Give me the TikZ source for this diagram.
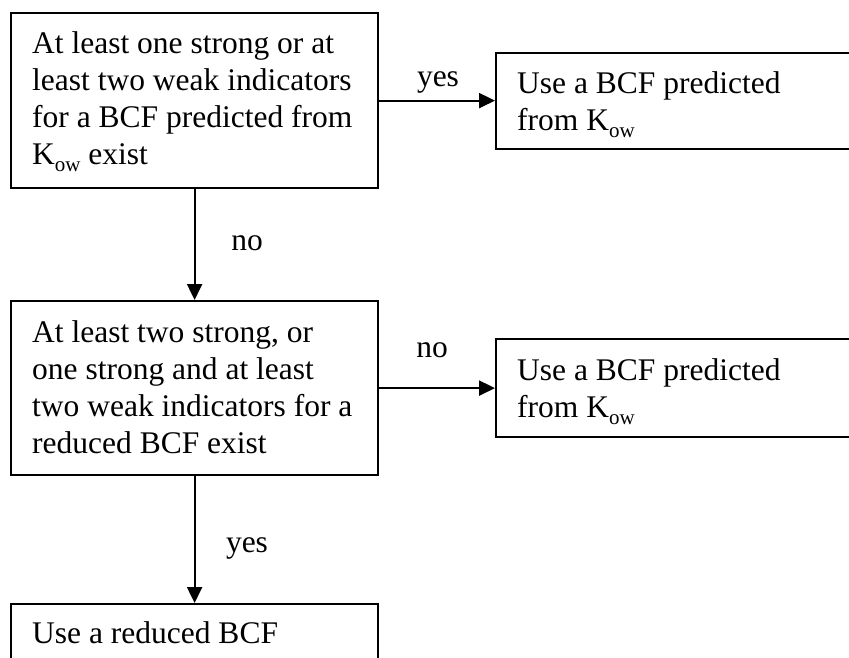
\documentclass[tikz,border=0pt]{standalone}
\usepackage{fontspec}
\setmainfont{Liberation Serif}
\usetikzlibrary{arrows.meta}
\tikzset{
  box/.style={draw, line width=2.2pt, inner sep=0pt, anchor=north west},
  txt/.style={anchor=base west, inner sep=0pt},
  lbl/.style={anchor=base, inner sep=0pt},
  arr/.style={line width=2.2pt, -{Triangle[length=16pt,width=15pt]}}
}
\newcommand{\ow}{\raisebox{-7pt}{\fontsize{21}{21}\selectfont ow}}
\begin{document}
\begin{tikzpicture}[x=1pt,y=-1pt,font=\fontsize{31.5}{37}\selectfont]
\useasboundingbox (0,0) rectangle (849,657);
\clip (0,0) rectangle (849,657);
\fill[white] (0,0) rectangle (849,657);
% boxes
\node[box, minimum width=367pt, minimum height=175pt] (b1) at (10,12) {};
\node[box, minimum width=370pt, minimum height=96pt] (b2) at (495,52) {};
\node[box, minimum width=367pt, minimum height=174pt] (b3) at (10,300) {};
\node[box, minimum width=370pt, minimum height=98pt] (b4) at (495,338) {};
\node[box, minimum width=367pt, minimum height=80pt] (b5) at (10,603) {};
% texts
\node[txt] (t1) at (32,53) {\parbox[t]{345pt}{\raggedright At least one strong or at\\ least two weak indicators\\ for a BCF predicted from\\ K\ow{} exist}};
\node[txt] (t2) at (517,93) {\parbox[t]{320pt}{\raggedright Use a BCF predicted\\ from K\ow}};
\node[txt] (t3) at (32,342) {\parbox[t]{345pt}{\raggedright At least two strong, or\\ one strong and at least\\ two weak indicators for a\\ reduced BCF exist}};
\node[txt] (t4) at (517,380) {\parbox[t]{320pt}{\raggedright Use a BCF predicted\\ from K\ow}};
\node[txt] (t5) at (32,643) {Use a reduced BCF};
% connectors
\draw[arr] (b1.east) -- (b1.east -| b2.west);
\draw[arr] (b1.south) -- (b3.north);
\draw[arr] (b3.east) -- (b3.east -| b4.west);
\draw[arr] (b3.south) -- (b3.south |- b5.north);
% labels
\node[lbl] (l1) at (438,86) {yes};
\node[lbl] (l2) at (247,250) {no};
\node[lbl] (l3) at (432,357) {no};
\node[lbl] (l4) at (247,552) {yes};
\end{tikzpicture}
\end{document}
